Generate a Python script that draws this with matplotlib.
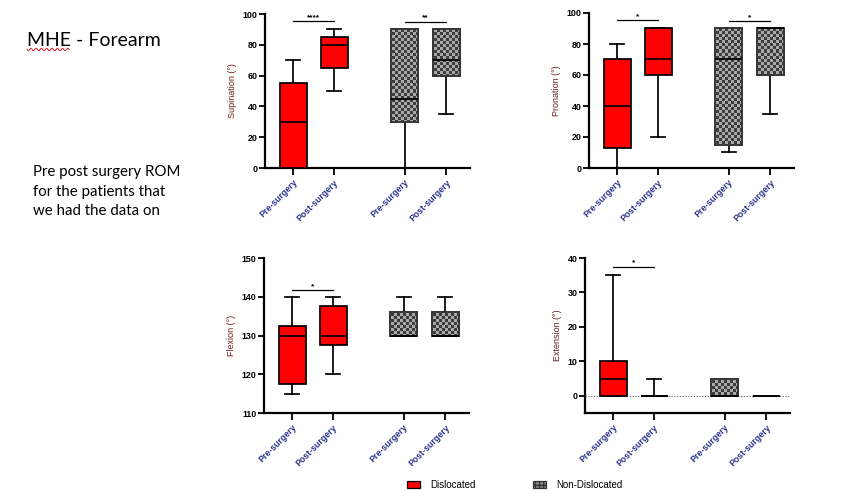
import numpy as np
import matplotlib
matplotlib.use('Agg')
import matplotlib.pyplot as plt
from matplotlib.patches import Patch, PathPatch

# ---------------- data ----------------
groups = ['Dislocated', 'Non-Dislocated']
tick_labels = ['Pre-surgery', 'Post-surgery', 'Pre-surgery', 'Post-surgery']
# five-number summaries [whisker low, Q1, median, Q3, whisker high]
# order: Dislocated pre, Dislocated post, Non-Dislocated pre, Non-Dislocated post
supination = [[0, 0, 30, 55, 70], [50, 65, 80, 85, 90],
              [0, 30, 45, 90, 90], [35, 60, 70, 90, 90]]
pronation = [[0, 13, 40, 70, 80], [20, 60, 70, 90, 90],
             [10, 15, 70, 90, 90], [35, 60, 90, 90, 90]]
flexion = [[115, 117.5, 130, 132.5, 140], [120, 127.5, 130, 137.5, 140],
           [130, 130, 130, 136, 140], [130, 130, 130, 136, 140]]
extension = [[0, 0, 5, 10, 35], [0, 0, 0, 0, 5],
             [0, 0, 0, 4.75, 4.75], [0, 0, 0, 0, 0]]
# significance: (first box index, second box index, height, label)
sup_sig = [(0, 1, 95.5, '****'), (2, 3, 95.0, '**')]
pro_sig = [(0, 1, 95.5, '*'), (2, 3, 95.0, '*')]
flex_sig = [(0, 1, 141.7, '*')]
ext_sig = [(0, 1, 37.5, '*')]
y_labels = ['Supination (°)', 'Pronation (°)', 'Flexion (°)', 'Extension (°)']

# ---------------- layout ----------------
W, H = 861, 490
fig = plt.figure(figsize=(W / 100, H / 100), dpi=100)
fig.patch.set_facecolor('white')

positions = [1, 2, 3.72, 4.74]
xlim = (1 - 28 / 41, 1 + 177 / 41)
box_w = 27 / 41
cap_w = 14 / 41
RED = '#ff0000'
YLAB = '#6e1c1c'
TICKC = '#27308a'
ARIAL = ['Liberation Sans', 'DejaVu Sans']


def add_axes_px(left, top, right, bottom):
    return fig.add_axes([left / W, 1 - bottom / H, (right - left) / W, (bottom - top) / H])


def checker(nx, ny):
    xx, yy = np.meshgrid(np.arange(nx), np.arange(ny))
    return ((xx + yy) % 2).astype(float)


def panel(rect, data, sig, ylabel, ylim, yticks, baseline=False):
    ax = add_axes_px(*rect)
    stats = []
    for d in data:
        stats.append(dict(whislo=d[0], q1=d[1], med=d[2], q3=d[3], whishi=d[4]))
    lw = 1.25
    bp = ax.bxp(stats, positions=positions, widths=box_w, capwidths=cap_w,
                patch_artist=True, showfliers=False,
                boxprops=dict(edgecolor='black', linewidth=lw),
                medianprops=dict(color='black', linewidth=lw),
                whiskerprops=dict(color='black', linewidth=lw),
                capprops=dict(color='black', linewidth=lw))
    ax.set_xlim(*xlim)
    ax.set_ylim(*ylim)
    pw = rect[2] - rect[0]
    ph = rect[3] - rect[1]
    img = checker(int(pw / 3), int(ph / 3))
    for i, b in enumerate(bp['boxes']):
        b.set_zorder(3)
        if i < 2:
            b.set_facecolor(RED)
        else:
            b.set_facecolor('#8a8a8a')
            b.set_edgecolor('#333333')
            im = ax.imshow(img, extent=(xlim[0], xlim[1], ylim[0], ylim[1]),
                           cmap=matplotlib.colors.ListedColormap(['#3c3c3c', '#a9a9a9']),
                           aspect='auto', interpolation='nearest', zorder=3.1,
                           origin='lower')
            im.set_clip_path(b)
            ax.add_patch(PathPatch(b.get_path(), transform=b.get_transform(),
                                   facecolor='none', edgecolor='#333333',
                                   linewidth=lw, zorder=3.2))
    for m in bp['medians']:
        m.set_zorder(3.3)
    ax.set_xlim(*xlim)
    ax.set_ylim(*ylim)
    if baseline:
        ax.axhline(0, color='#555555', linewidth=0.8, linestyle=(0, (1, 1.5)), zorder=1)
    for i0, i1, yv, lab in sig:
        ax.plot([positions[i0], positions[i1]], [yv, yv], color='black', linewidth=0.9,
                clip_on=False)
        ax.text((positions[i0] + positions[i1]) / 2, yv, lab, ha='center', va='bottom',
                fontsize=6, fontweight='bold', family=ARIAL)
    for s in ['top', 'right']:
        ax.spines[s].set_visible(False)
    for s in ['left', 'bottom']:
        ax.spines[s].set_linewidth(1.6)
    ax.set_yticks(yticks)
    ax.set_xticks(positions)
    ax.set_xticklabels(tick_labels, rotation=45, ha='right', va='top',
                       rotation_mode='anchor', fontsize=6.3, fontweight='bold',
                       color=TICKC, family=ARIAL)
    for t in ax.get_yticklabels():
        t.set_fontsize(6.4)
        t.set_fontweight('bold')
        t.set_family(ARIAL)
    ax.tick_params(axis='y', length=4, width=1.3, pad=1.5)
    ax.tick_params(axis='x', length=5, width=1.3, pad=2)
    ax.set_ylabel(ylabel, fontsize=6.5, color=YLAB, family=ARIAL, labelpad=4)
    ax.patch.set_alpha(0)
    return ax


panel((265, 14, 470, 168), supination, sup_sig, y_labels[0], (0, 100), np.arange(0, 101, 20))
panel((589, 13, 794, 168), pronation, pro_sig, y_labels[1], (0, 100), np.arange(0, 101, 20))
panel((264, 258, 469, 413), flexion, flex_sig, y_labels[2], (110, 150), np.arange(110, 151, 10))
panel((585, 258, 790, 413), extension, ext_sig, y_labels[3], (-5, 40), np.arange(0, 41, 10),
      baseline=True)

# ---------------- slide text ----------------
fig.text(27 / W, 1 - 46 / H, 'MHE - Forearm', fontsize=14, family=['Lato', 'DejaVu Sans'],
         va='baseline', ha='left')
sx = np.linspace(27, 69, 200)
sy = 49.5 + 1.2 * np.sin((sx - 27) / 42 * 2 * np.pi * 8)
fig.add_artist(matplotlib.lines.Line2D(sx / W, 1 - sy / H, color='#e02020', linewidth=0.7))
para = ['Pre post surgery ROM', 'for the patients that', 'we had the data on']
for i, line in enumerate(para):
    fig.text(33 / W, 1 - (176 + 19.6 * i) / H, line, fontsize=10.8,
             family=['Lato', 'DejaVu Sans'], va='baseline', ha='left')

# ---------------- legend ----------------
handles = [Patch(facecolor=RED, edgecolor='black', linewidth=0.9),
           Patch(facecolor='#8a8a8a', edgecolor='#333333', hatch='++++', linewidth=0.9)]
fig.legend(handles, groups, ncol=2, loc='center left',
           bbox_to_anchor=(407 / W, 1 - 485 / H), frameon=False,
           prop=dict(family=ARIAL, size=7), handlelength=1.3, handleheight=0.7,
           handletextpad=1.1, columnspacing=5.9, borderpad=0, borderaxespad=0)

fig.savefig('out.png', dpi=100, facecolor='white')
